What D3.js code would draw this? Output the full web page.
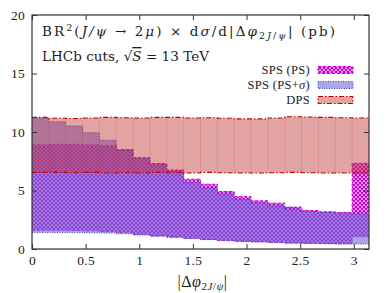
<!DOCTYPE html>
<html>
<head>
<meta charset="utf-8">
<script src="https://cdn.jsdelivr.net/npm/d3@7"></script>
<style>
  body { margin: 0; background: #fff; }
  svg text { font-family: "Liberation Serif", "DejaVu Serif", serif; fill: #222; }
  svg text.title, svg text.title tspan { font-family: "DejaVu Serif", serif; }
</style>
</head>
<body>
<svg id="chart" width="390" height="293"></svg>
<script>
// 20 bins in |dphi| from 0 to pi
const nBins = 20;
const edges = d3.range(nBins + 1).map(i => i * Math.PI / nBins);

// SPS (PS) band
const psLow  = [1.60, 1.60, 1.58, 1.55, 1.50, 1.40, 1.25, 1.12, 1.02, 0.92, 0.82, 0.74, 0.67, 0.62, 0.57, 0.52, 0.50, 0.47, 0.45, 1.05];
const psHigh = [8.90, 8.95, 8.95, 8.90, 8.83, 8.50, 7.80, 7.30, 6.75, 5.97, 5.54, 4.91, 4.48, 4.12, 3.92, 3.58, 3.29, 3.18, 3.12, 7.33];

// SPS (PS+sigma) band
const sigLow  = [1.42, 1.42, 1.40, 1.38, 1.36, 1.30, 1.20, 1.10, 1.00, 0.90, 0.80, 0.72, 0.65, 0.60, 0.55, 0.50, 0.48, 0.45, 0.43, 0.43];
const sigHigh = [11.17, 10.88, 10.51, 9.94, 9.29, 8.44, 7.76, 7.19, 6.62, 5.68, 5.20, 4.71, 4.26, 3.92, 3.69, 3.41, 3.21, 3.12, 3.07, 3.01];

// DPS band
const dpsLow  = [6.55, 6.55, 6.52, 6.55, 6.50, 6.52, 6.50, 6.55, 6.52, 6.50, 6.55, 6.52, 6.50, 6.50, 6.52, 6.55, 6.52, 6.50, 6.50, 6.50];
const dpsHigh = [11.25, 11.18, 11.15, 11.20, 11.25, 11.22, 11.20, 11.25, 11.25, 11.20, 11.22, 11.18, 11.12, 11.12, 11.20, 11.30, 11.28, 11.25, 11.22, 11.20];

const xTicks = [0, 0.5, 1, 1.5, 2, 2.5, 3];
const yTicks = [0, 5, 10, 15, 20];

const margin = { top: 15, right: 21, bottom: 44, left: 32 };
const width = 390, height = 293;
const w = width - margin.left - margin.right;
const h = height - margin.top - margin.bottom;

const svg = d3.select('#chart');

// pattern for SPS (PS)
const defs = svg.append('defs');
const pat = defs.append('pattern')
  .attr('id', 'hatch')
  .attr('patternUnits', 'userSpaceOnUse')
  .attr('width', 4)
  .attr('height', 4);
pat.append('path')
  .attr('d', 'M0,0L4,4M4,0L0,4M-1,1L1,-1M3,5L5,3M-1,3L1,5M3,-1L5,1')
  .attr('stroke', '#c000c8')
  .attr('stroke-width', 1.35)
  .attr('fill', 'none');

defs.append('clipPath').attr('id', 'clip')
  .append('rect').attr('width', w).attr('height', h);

const g = svg.append('g').attr('transform', `translate(${margin.left},${margin.top})`);

const x = d3.scaleLinear().domain([0, Math.PI]).range([0, w]);
const y = d3.scaleLinear().domain([0, 20]).range([h, 0]);

// turn per-bin values into step points
function steps(vals) {
  return edges.map((e, i) => ({ x: e, v: vals[Math.min(i, vals.length - 1)] }));
}
function bandPts(lo, hi) {
  return edges.map((e, i) => ({ x: e, lo: lo[Math.min(i, nBins - 1)], hi: hi[Math.min(i, nBins - 1)] }));
}

const area = d3.area().curve(d3.curveStepAfter)
  .x(d => x(d.x)).y0(d => y(d.lo)).y1(d => y(d.hi));
const line = d3.line().curve(d3.curveStepAfter)
  .x(d => x(d.x)).y(d => y(d.v));

const plot = g.append('g').attr('clip-path', 'url(#clip)');

// SPS (PS) hatch
plot.append('path')
  .attr('d', area(bandPts(psLow, psHigh)))
  .attr('fill', 'url(#hatch)');
[psLow, psHigh].forEach(arr => {
  plot.append('path')
    .attr('d', line(steps(arr)))
    .attr('fill', 'none')
    .attr('stroke', '#d000d0')
    .attr('stroke-width', 1)
    .attr('stroke-dasharray', '3,2');
});

// SPS (PS+sigma)
plot.append('path')
  .attr('d', area(bandPts(sigLow, sigHigh)))
  .attr('fill', '#6e6ed7')
  .attr('fill-opacity', 0.6);
[sigLow, sigHigh].forEach(arr => {
  plot.append('path')
    .attr('d', line(steps(arr)))
    .attr('fill', 'none')
    .attr('stroke', '#3a3ad0')
    .attr('stroke-width', 1)
    .attr('stroke-dasharray', '1,1.5');
});

// DPS
plot.append('path')
  .attr('d', area(bandPts(dpsLow, dpsHigh)))
  .attr('fill', '#be3232')
  .attr('fill-opacity', 0.45);
plot.selectAll('.dps-sep')
  .data(d3.range(1, nBins))
  .enter().append('line')
  .attr('class', 'dps-sep')
  .attr('x1', i => x(edges[i])).attr('x2', i => x(edges[i]))
  .attr('y1', i => y(Math.min(dpsHigh[i - 1], dpsHigh[i])))
  .attr('y2', i => y(Math.max(dpsLow[i - 1], dpsLow[i])))
  .attr('stroke', '#be3232')
  .attr('stroke-opacity', 0.15)
  .attr('stroke-width', 1);
[dpsLow, dpsHigh].forEach(arr => {
  plot.append('path')
    .attr('d', line(steps(arr)))
    .attr('fill', 'none')
    .attr('stroke', '#c00000')
    .attr('stroke-width', 1.1)
    .attr('stroke-dasharray', '5,2,1.5,2');
});

// axes
const fs = '13.5px';
const xAxis = g.append('g')
  .attr('transform', `translate(0,${h})`)
  .call(d3.axisBottom(x).tickValues(xTicks).tickSizeInner(-5).tickSizeOuter(0).tickPadding(6)
    .tickFormat(d => d));
const xAxisTop = g.append('g')
  .call(d3.axisTop(x).tickValues(xTicks).tickSizeInner(-5).tickSizeOuter(0).tickFormat(''));
const yAxis = g.append('g')
  .call(d3.axisLeft(y).tickValues(yTicks).tickSizeInner(-5).tickSizeOuter(0).tickPadding(7));
const yAxisRight = g.append('g')
  .attr('transform', `translate(${w},0)`)
  .call(d3.axisRight(y).tickValues(yTicks).tickSizeInner(-5).tickSizeOuter(0).tickFormat(''));

[xAxis, xAxisTop, yAxis, yAxisRight].forEach(a => {
  a.select('.domain').remove();
  a.selectAll('line').attr('stroke', '#333');
  a.selectAll('text').style('font-size', fs).attr('fill', '#222')
    .style('font-family', '"Liberation Serif", serif')
    .style('letter-spacing', '0.3px');
});

g.append('rect')
  .attr('width', w).attr('height', h)
  .attr('fill', 'none')
  .attr('stroke', '#333')
  .attr('stroke-width', 1.2);

// x axis title
const xt = svg.append('text')
  .attr('x', margin.left + w / 2 + 2)
  .attr('y', 287)
  .attr('text-anchor', 'middle')
  .style('font-size', '16px')
  .style('letter-spacing', '0.5px');
xt.append('tspan').text('|Δ');
xt.append('tspan').style('font-style', 'italic').text('φ');
xt.append('tspan').attr('dy', 3).style('font-size', '11px').text('2');
xt.append('tspan').style('font-size', '11px').style('font-style', 'italic').text('J');
xt.append('tspan').style('font-size', '11px').text('/');
xt.append('tspan').style('font-size', '11px').style('font-style', 'italic').text('ψ');
xt.append('tspan').attr('dy', -3).text('|');

// title lines
const t1 = svg.append('text').attr('class', 'title').attr('x', 42).attr('y', 36)
  .attr('textLength', 293).attr('lengthAdjust', 'spacing')
  .style('font-size', '13.5px');
t1.append('tspan').text('BR');
t1.append('tspan').attr('dy', -5).style('font-size', '9.5px').text('2');
t1.append('tspan').attr('dy', 5).text('(');
t1.append('tspan').style('font-style', 'italic').text('J/ψ');
t1.append('tspan').text(' → 2');
t1.append('tspan').style('font-style', 'italic').text('μ');
t1.append('tspan').text(') × d');
t1.append('tspan').style('font-style', 'italic').text('σ');
t1.append('tspan').text('/d|Δ');
t1.append('tspan').style('font-style', 'italic').text('φ');
t1.append('tspan').attr('dy', 3).style('font-size', '9.5px').text('2');
t1.append('tspan').style('font-size', '9.5px').style('font-style', 'italic').text('J');
t1.append('tspan').style('font-size', '9.5px').text('/');
t1.append('tspan').style('font-size', '9.5px').style('font-style', 'italic').text('ψ');
t1.append('tspan').attr('dy', -3).text('| (pb)');

const t2 = svg.append('text').attr('class', 'title').attr('x', 42).attr('y', 61)
  .attr('textLength', 167).attr('lengthAdjust', 'spacing')
  .style('font-size', '13.5px');
t2.append('tspan').text('LHCb cuts, √');
t2.append('tspan').style('font-style', 'italic').style('text-decoration', 'overline').text('S');
t2.append('tspan').text(' = 13 TeV');

// legend
const legend = [
  { label: ['SPS (PS)'], fill: 'url(#hatch)', op: 1, stroke: '#d000d0', dash: '3,2' },
  { label: ['SPS (PS+', 'σ', ')'], fill: '#6e6ed7', op: 0.6, stroke: '#3a3ad0', dash: '1,1.5' },
  { label: ['DPS'], fill: '#be3232', op: 0.45, stroke: '#c00000', dash: '5,2,1.5,2' }
];
const lg = svg.append('g');
legend.forEach((d, i) => {
  const cy = 70 + i * 15;
  const tx = lg.append('text')
    .attr('x', 310).attr('y', cy + 4)
    .attr('text-anchor', 'end')
    .style('font-size', '12.5px')
    .style('letter-spacing', '0.3px');
  d.label.forEach((s, k) => {
    tx.append('tspan').style('font-style', k === 1 ? 'italic' : 'normal').text(s);
  });
  lg.append('rect')
    .attr('x', 318).attr('y', cy - 3.5)
    .attr('width', 35).attr('height', 7)
    .attr('fill', d.fill).attr('fill-opacity', d.op)
    .attr('stroke', d.stroke).attr('stroke-width', 1)
    .attr('stroke-dasharray', d.dash);
});
</script>
</body>
</html>
